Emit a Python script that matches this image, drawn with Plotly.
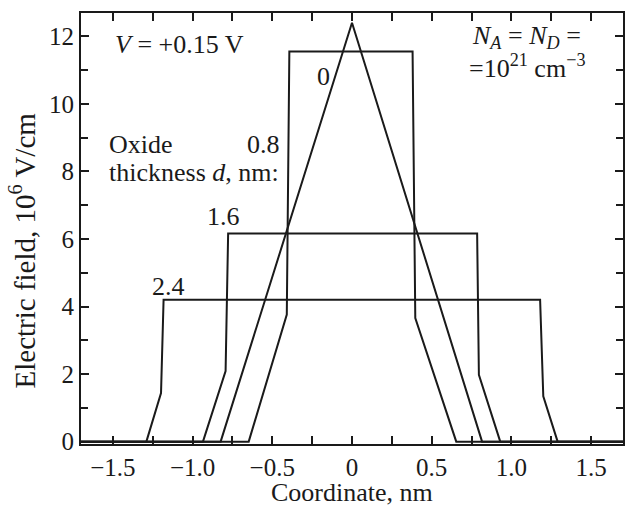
import plotly.graph_objects as go

# Series: electric field profiles for oxide thickness d (nm)
labels = ["0", "0.8", "1.6", "2.4"]
x_d0 = [-1.7, -0.824, 0.0, 0.816, 1.7]
y_d0 = [0.0, 0.0, 12.4, 0.0, 0.0]
x_d08 = [-1.7, -0.648, -0.409, -0.393, 0.38, 0.397, 0.654, 1.7]
y_d08 = [0.0, 0.0, 3.76, 11.55, 11.55, 3.66, 0.0, 0.0]
x_d16 = [-1.7, -0.935, -0.793, -0.777, 0.785, 0.796, 0.930, 1.7]
y_d16 = [0.0, 0.0, 2.09, 6.16, 6.16, 1.98, 0.0, 0.0]
x_d24 = [-1.7, -1.29, -1.198, -1.182, 1.18, 1.20, 1.29, 1.7]
y_d24 = [0.0, 0.0, 1.44, 4.2, 4.2, 1.34, 0.0, 0.0]

x_ticks = [-1.5, -1.0, -0.5, 0, 0.5, 1.0, 1.5]
x_ticktext = ["\u22121.5", "\u22121.0", "\u22120.5", "0", "0.5", "1.0", "1.5"]
y_ticks = [0, 2, 4, 6, 8, 10, 12]

FONT = '"Liberation Serif", "Times New Roman", Times, serif'
FS_TICK = 25
FS = 26

fig = go.Figure()
for xs, ys in [(x_d0, y_d0), (x_d08, y_d08), (x_d16, y_d16), (x_d24, y_d24)]:
    fig.add_trace(go.Scatter(x=xs, y=ys, mode="lines",
                             line=dict(color="#1a1a1a", width=2),
                             showlegend=False, hoverinfo="skip"))

axis_common = dict(showline=True, linecolor="#1a1a1a", linewidth=2, mirror="allticks",
                   ticks="inside", ticklen=8, tickwidth=1.5, tickcolor="#1a1a1a",
                   showgrid=False, zeroline=False,
                   tickfont=dict(family=FONT, size=FS_TICK, color="#1a1a1a"))

fig.update_xaxes(range=[-1.7, 1.7], tickvals=x_ticks, ticktext=x_ticktext,
                 minor=dict(dtick=0.25, ticks="inside", ticklen=8, tickcolor="#1a1a1a", tickwidth=1.5),
                 **axis_common)
fig.update_yaxes(range=[-0.07, 12.69], tickvals=y_ticks,
                 minor=dict(dtick=1, ticks="inside", ticklen=7, tickcolor="#1a1a1a", tickwidth=1.5),
                 **axis_common)

def ann(text, x, y, xanchor="center", xref="x", yref="y", angle=0, size=FS):
    fig.add_annotation(text=text, x=x, y=y, xref=xref, yref=yref, showarrow=False,
                       xanchor=xanchor, yanchor="middle", textangle=angle,
                       font=dict(family=FONT, size=size, color="#1a1a1a"))

ann("<i>V</i> = +0.15 V", -1.50, 11.75, xanchor="left")
ann("<i>N</i><sub><i>A</i></sub> = <i>N</i><sub><i>D</i></sub> =", 1.096, 11.98)
ann("=10<sup>21</sup> cm<sup>\u22123</sup>", 1.096, 11.1)
ann(labels[0], -0.18, 10.8)
ann(labels[1], -0.555, 8.79)
ann("Oxide", -1.539, 8.79, xanchor="left")
ann("thickness <i>d</i>, nm:", -1.539, 7.96, xanchor="left")
ann(labels[2], -0.804, 6.66)
ann(labels[3], -1.153, 4.59)
ann("Coordinate, nm", 0, -0.113, yref="paper")
ann("Electric field, 10<sup>6</sup> V/cm", -0.108, 0.450, xref="paper", yref="paper",
    angle=-90, size=29)

fig.update_layout(width=626, height=509, margin=dict(l=81, r=1, t=13, b=65),
                  plot_bgcolor="white", paper_bgcolor="white",
                  font=dict(family=FONT, size=FS, color="#1a1a1a"))

fig.write_html("out.html")
